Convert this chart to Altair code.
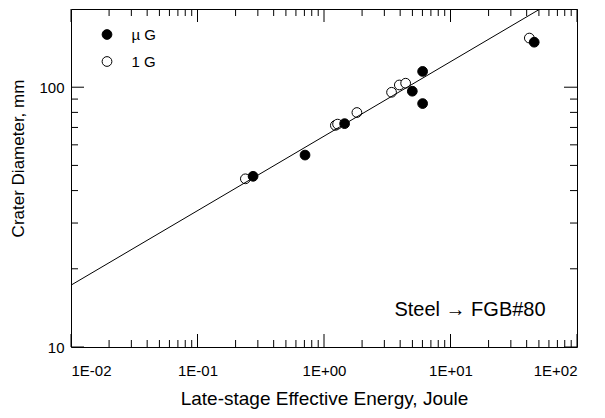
import altair as alt
import pandas as pd

# ---- data ----
mu_x = [0.275, 0.708, 1.455, 4.99, 6.02, 6.02, 45.9]
mu_y = [45.4, 54.8, 72.4, 96.5, 115.0, 86.5, 149.0]
g1_x = [0.239, 1.23, 1.28, 1.82, 3.42, 3.94, 4.42, 42.0]
g1_y = [44.4, 71.3, 72.1, 79.9, 95.6, 102.0, 103.6, 154.6]
series_names = ["\u00b5 G", "1 G"]

fit_x = [0.01, 51.0]
fit_y = [17.3, 200.0]

x_major = [0.01, 0.1, 1, 10, 100]
x_tick_labels = ["1E-02", "1E-01", "1E+00", "1E+01", "1E+02"]
y_major = [10, 100]
y_tick_labels = ["10", "100"]
x_minor = [m * d for d in [0.01, 0.1, 1, 10] for m in range(2, 10)]
y_minor = [m * d for d in [10] for m in range(2, 10)]

annotation = "Steel \u2192 FGB#80"
x_title = "Late-stage Effective Energy, Joule"
y_title = "Crater Diameter, mm"

W, H = 506, 338
FONT = "Liberation Sans"
MAJOR_LEN, MINOR_LEN = 13, 7

pts = pd.DataFrame({
    "x": g1_x + mu_x,
    "y": g1_y + mu_y,
    "series": [series_names[1]] * len(g1_x) + [series_names[0]] * len(mu_x),
})
fit = pd.DataFrame({"x": fit_x, "y": fit_y})

xs = alt.Scale(type="log", domain=[0.01, 100], nice=False)
ys = alt.Scale(type="log", domain=[10, 200], nice=False)

x_label_expr = "[" + ",".join("'%s'" % s for s in x_tick_labels) + "][round(log(datum.value)/LN10)+2]"
y_label_expr = "[" + ",".join("'%s'" % s for s in y_tick_labels) + "][round(log(datum.value)/LN10)-1]"

x_main = alt.Axis(values=x_major, labelExpr=x_label_expr, ticks=False, tickSize=0, domain=False,
                  grid=False, labelPadding=16, labelFont=FONT, labelFontSize=15, labelColor="black",
                  title=x_title, titleFont=FONT, titleFontSize=19, titleFontWeight="normal",
                  titleColor="black", titlePadding=11)
y_main = alt.Axis(values=y_major, labelExpr=y_label_expr, ticks=False, tickSize=0, domain=False,
                  grid=False, labelPadding=7, labelFont=FONT, labelFontSize=15, labelColor="black",
                  title=y_title, titleFont=FONT, titleFontSize=17, titleFontWeight="normal",
                  titleColor="black", titleX=-44, titleY=149)

points = alt.Chart(pts).mark_point(filled=True, size=95, stroke="black", strokeWidth=1,
                                   opacity=1, shape="circle").encode(
    x=alt.X("x:Q", scale=xs, axis=x_main),
    y=alt.Y("y:Q", scale=ys, axis=y_main),
    fill=alt.Fill("series:N", scale=alt.Scale(domain=series_names, range=["black", "white"]),
                  legend=alt.Legend(title=None, orient="none", legendX=28.5, legendY=18,
                                    symbolType="circle", symbolSize=95,
                                    symbolStrokeColor="black", symbolStrokeWidth=1,
                                    labelFont=FONT, labelFontSize=15, labelColor="black",
                                    labelOffset=17, rowPadding=11, padding=0)),
)

line = alt.Chart(fit).mark_line(color="black", strokeWidth=1, clip=True).encode(
    x=alt.X("x:Q", scale=xs, axis=x_main),
    y=alt.Y("y:Q", scale=ys, axis=y_main),
)


def x_ticks(values, length, side):
    y0 = H if side == "bottom" else 0
    y1 = H - length if side == "bottom" else length
    return alt.Chart(pd.DataFrame({"x": values})).mark_rule(color="black", strokeWidth=1).encode(
        x=alt.X("x:Q", scale=xs, axis=x_main), y=alt.value(y0), y2=alt.value(y1))


def y_ticks(values, length, side):
    x0 = 0 if side == "left" else W
    x1 = length if side == "left" else W - length
    return alt.Chart(pd.DataFrame({"y": values})).mark_rule(color="black", strokeWidth=1).encode(
        y=alt.Y("y:Q", scale=ys, axis=y_main), x=alt.value(x0), x2=alt.value(x1))


tick_layers = [
    x_ticks(x_major, MAJOR_LEN, "bottom"), x_ticks(x_major, MAJOR_LEN, "top"),
    x_ticks(x_minor, MINOR_LEN, "bottom"), x_ticks(x_minor, MINOR_LEN, "top"),
    y_ticks(y_major, MAJOR_LEN, "left"), y_ticks(y_major, MAJOR_LEN, "right"),
    y_ticks(y_minor, MINOR_LEN, "left"), y_ticks(y_minor, MINOR_LEN, "right"),
]

text = alt.Chart(pd.DataFrame({"t": [annotation]})).mark_text(
    font=FONT, fontSize=20, color="black", align="center", baseline="middle"
).encode(x=alt.value(399), y=alt.value(301), text="t:N")

chart = alt.layer(points, line, *tick_layers, text).properties(
    width=W, height=H,
    padding={"left": 63, "top": 1, "right": 20, "bottom": 63},
    autosize=alt.AutoSizeParams(type="none"),
).configure_view(stroke="black", strokeWidth=1)

chart.save("out.html", embed_options={"renderer": "svg", "actions": False})
